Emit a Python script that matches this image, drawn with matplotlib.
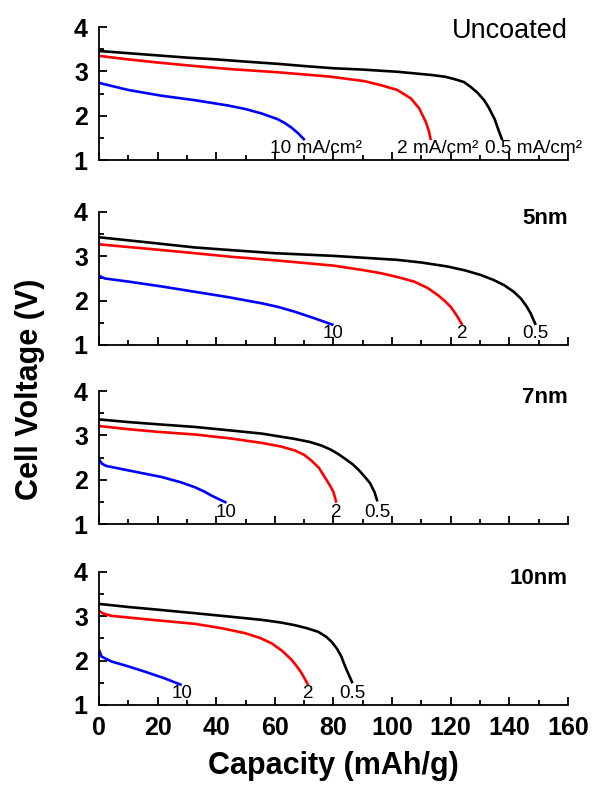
import numpy as np
import matplotlib.pyplot as plt
from matplotlib.ticker import MultipleLocator

plt.rcParams['font.family'] = ['Liberation Sans', 'DejaVu Sans']

# values: capacity (mAh/g), voltage (V)
panels = ['Uncoated', '5nm', '7nm', '10nm']

unc_05_x = [0, 10, 20, 30, 40, 50, 61, 70, 80, 90, 102, 113.2, 118, 121, 124.5, 126.8, 129.1, 131.4, 133, 135, 136.5, 137.6]
unc_05_y = [3.46, 3.41, 3.36, 3.31, 3.27, 3.22, 3.17, 3.12, 3.07, 3.04, 2.99, 2.92, 2.88, 2.83, 2.76, 2.65, 2.52, 2.35, 2.18, 1.92, 1.64, 1.45]
unc_2_x = [0, 10, 20, 32.7, 45, 61, 79, 90.5, 96.1, 101.8, 106.4, 109.2, 111.5, 112.6, 113.2]
unc_2_y = [3.35, 3.27, 3.20, 3.12, 3.05, 2.98, 2.88, 2.78, 2.69, 2.58, 2.39, 2.17, 1.86, 1.64, 1.45]
unc_10_x = [0, 5, 10, 21.4, 32.7, 44, 50, 55.5, 61, 63.5, 65.7, 68, 70.2]
unc_10_y = [2.74, 2.66, 2.58, 2.45, 2.35, 2.23, 2.15, 2.05, 1.92, 1.83, 1.73, 1.60, 1.45]

nm5_05_x = [0, 10, 20, 32.7, 45, 60, 80, 101.8, 110, 118.9, 125, 130.2, 134.5, 138.2, 141.5, 143.9, 145.8, 147.3, 149]
nm5_05_y = [3.43, 3.36, 3.29, 3.20, 3.14, 3.07, 3.01, 2.92, 2.86, 2.77, 2.68, 2.58, 2.47, 2.35, 2.20, 2.05, 1.88, 1.71, 1.45]
nm5_2_x = [0, 10, 20, 32.7, 45, 60, 80, 90, 96.1, 102, 107.5, 112, 115.5, 118, 120, 122, 124]
nm5_2_y = [3.27, 3.21, 3.15, 3.07, 2.99, 2.91, 2.79, 2.69, 2.62, 2.53, 2.43, 2.29, 2.13, 1.99, 1.86, 1.67, 1.45]
nm5_10_x = [0, 2, 10, 21.4, 32.7, 44, 55.5, 61, 66.8, 73.6, 80]
nm5_10_y = [2.56, 2.50, 2.43, 2.32, 2.20, 2.08, 1.94, 1.86, 1.75, 1.60, 1.45]

nm7_05_x = [0, 10, 20, 32.7, 45, 55.5, 66.8, 72, 75.9, 79, 81.6, 84, 86.5, 88.6, 90.5, 92.5, 94, 95]
nm7_05_y = [3.36, 3.30, 3.25, 3.19, 3.11, 3.04, 2.92, 2.85, 2.77, 2.68, 2.58, 2.47, 2.35, 2.22, 2.08, 1.92, 1.72, 1.51]
nm7_2_x = [0, 10, 20, 32.7, 45, 55.5, 62, 66.8, 70, 72.5, 75, 77, 78.7, 80, 81]
nm7_2_y = [3.21, 3.14, 3.08, 3.02, 2.93, 2.83, 2.75, 2.66, 2.56, 2.43, 2.27, 2.06, 1.88, 1.72, 1.48]
nm7_10_x = [0, 1, 2.5, 10, 21.4, 28, 32.7, 36, 38.4, 43.5]
nm7_10_y = [2.46, 2.36, 2.31, 2.21, 2.06, 1.94, 1.83, 1.73, 1.64, 1.48]

nm10_05_x = [0, 10, 20, 32.7, 45, 55.5, 62, 66.8, 71, 74.8, 77.5, 79.3, 81.2, 82.7, 83.5, 84.3, 85.3, 86.5]
nm10_05_y = [3.28, 3.21, 3.15, 3.07, 2.99, 2.92, 2.86, 2.80, 2.73, 2.65, 2.54, 2.43, 2.27, 2.09, 1.95, 1.82, 1.67, 1.49]
nm10_2_x = [0, 1.5, 4.3, 15, 32.7, 42, 49.8, 55, 58.9, 62.5, 65.7, 67.5, 69.1, 71.4]
nm10_2_y = [3.12, 3.06, 3.01, 2.94, 2.83, 2.73, 2.62, 2.51, 2.39, 2.22, 2.02, 1.87, 1.72, 1.45]
nm10_10_x = [0, 0.9, 4.3, 10, 15.7, 22, 28.2]
nm10_10_y = [2.24, 2.09, 1.98, 1.87, 1.75, 1.61, 1.45]

curves = [
    [(unc_05_x, unc_05_y), (unc_2_x, unc_2_y), (unc_10_x, unc_10_y)],
    [(nm5_05_x, nm5_05_y), (nm5_2_x, nm5_2_y), (nm5_10_x, nm5_10_y)],
    [(nm7_05_x, nm7_05_y), (nm7_2_x, nm7_2_y), (nm7_10_x, nm7_10_y)],
    [(nm10_05_x, nm10_05_y), (nm10_2_x, nm10_2_y), (nm10_10_x, nm10_10_y)],
]
rate_labels = ['0.5', '2', '10']
colors = ['black', 'red', 'blue']
# where the long labels of the top panel start, left of each curve end
top_label_shift = [5.9, 11.5, 11.8]

fig = plt.figure(figsize=(5.92, 7.86), dpi=100)
bottoms = [0.7964, 0.5611, 0.3333, 0.1031]

for i in range(4):
    ax = fig.add_axes([0.1672, bottoms[i], 0.7922, 0.1692])
    for j in range(3):
        x, y = curves[i][j]
        ax.plot(x, y, color=colors[j], lw=1.9, solid_capstyle='butt')
        if i == 0:
            ax.text(x[-1] - top_label_shift[j], 1.06, rate_labels[j] + ' mA/cm²',
                    fontsize=13.7, ha='left', va='bottom', clip_on=False)
        else:
            ax.text(x[-1], 1.06, rate_labels[j], fontsize=13.5, ha='center', va='bottom')
    ax.set_xlim(0, 160)
    ax.set_ylim(1, 4)
    ax.spines['top'].set_visible(False)
    ax.spines['right'].set_visible(False)
    for s in ['left', 'bottom']:
        ax.spines[s].set_linewidth(1.3)
    ax.xaxis.set_major_locator(MultipleLocator(20))
    ax.xaxis.set_minor_locator(MultipleLocator(10))
    ax.yaxis.set_major_locator(MultipleLocator(1))
    ax.yaxis.set_minor_locator(MultipleLocator(0.5))
    ax.tick_params(which='major', direction='in', length=6, width=1.3, pad=8,
                   labelsize=18)
    ax.tick_params(which='minor', direction='in', length=3.5, width=1.3)
    for lab in ax.get_yticklabels() + ax.get_xticklabels():
        lab.set_fontweight('bold')
    if i < 3:
        ax.tick_params(labelbottom=False)
    if i == 0:
        ax.text(160, 3.9, panels[i], fontsize=19.5, ha='right', va='center')
    else:
        ax.text(160, 3.85, panels[i], fontsize=16, ha='right', va='center',
                fontweight='bold')
    if i == 3:
        ax.set_xlabel('Capacity (mAh/g)', fontsize=22, fontweight='bold', labelpad=8)

fig.text(0.05, 0.505, 'Cell Voltage (V)', rotation=90, fontsize=22, fontweight='bold',
         ha='center', va='center')

plt.savefig('out.png', dpi=100)
